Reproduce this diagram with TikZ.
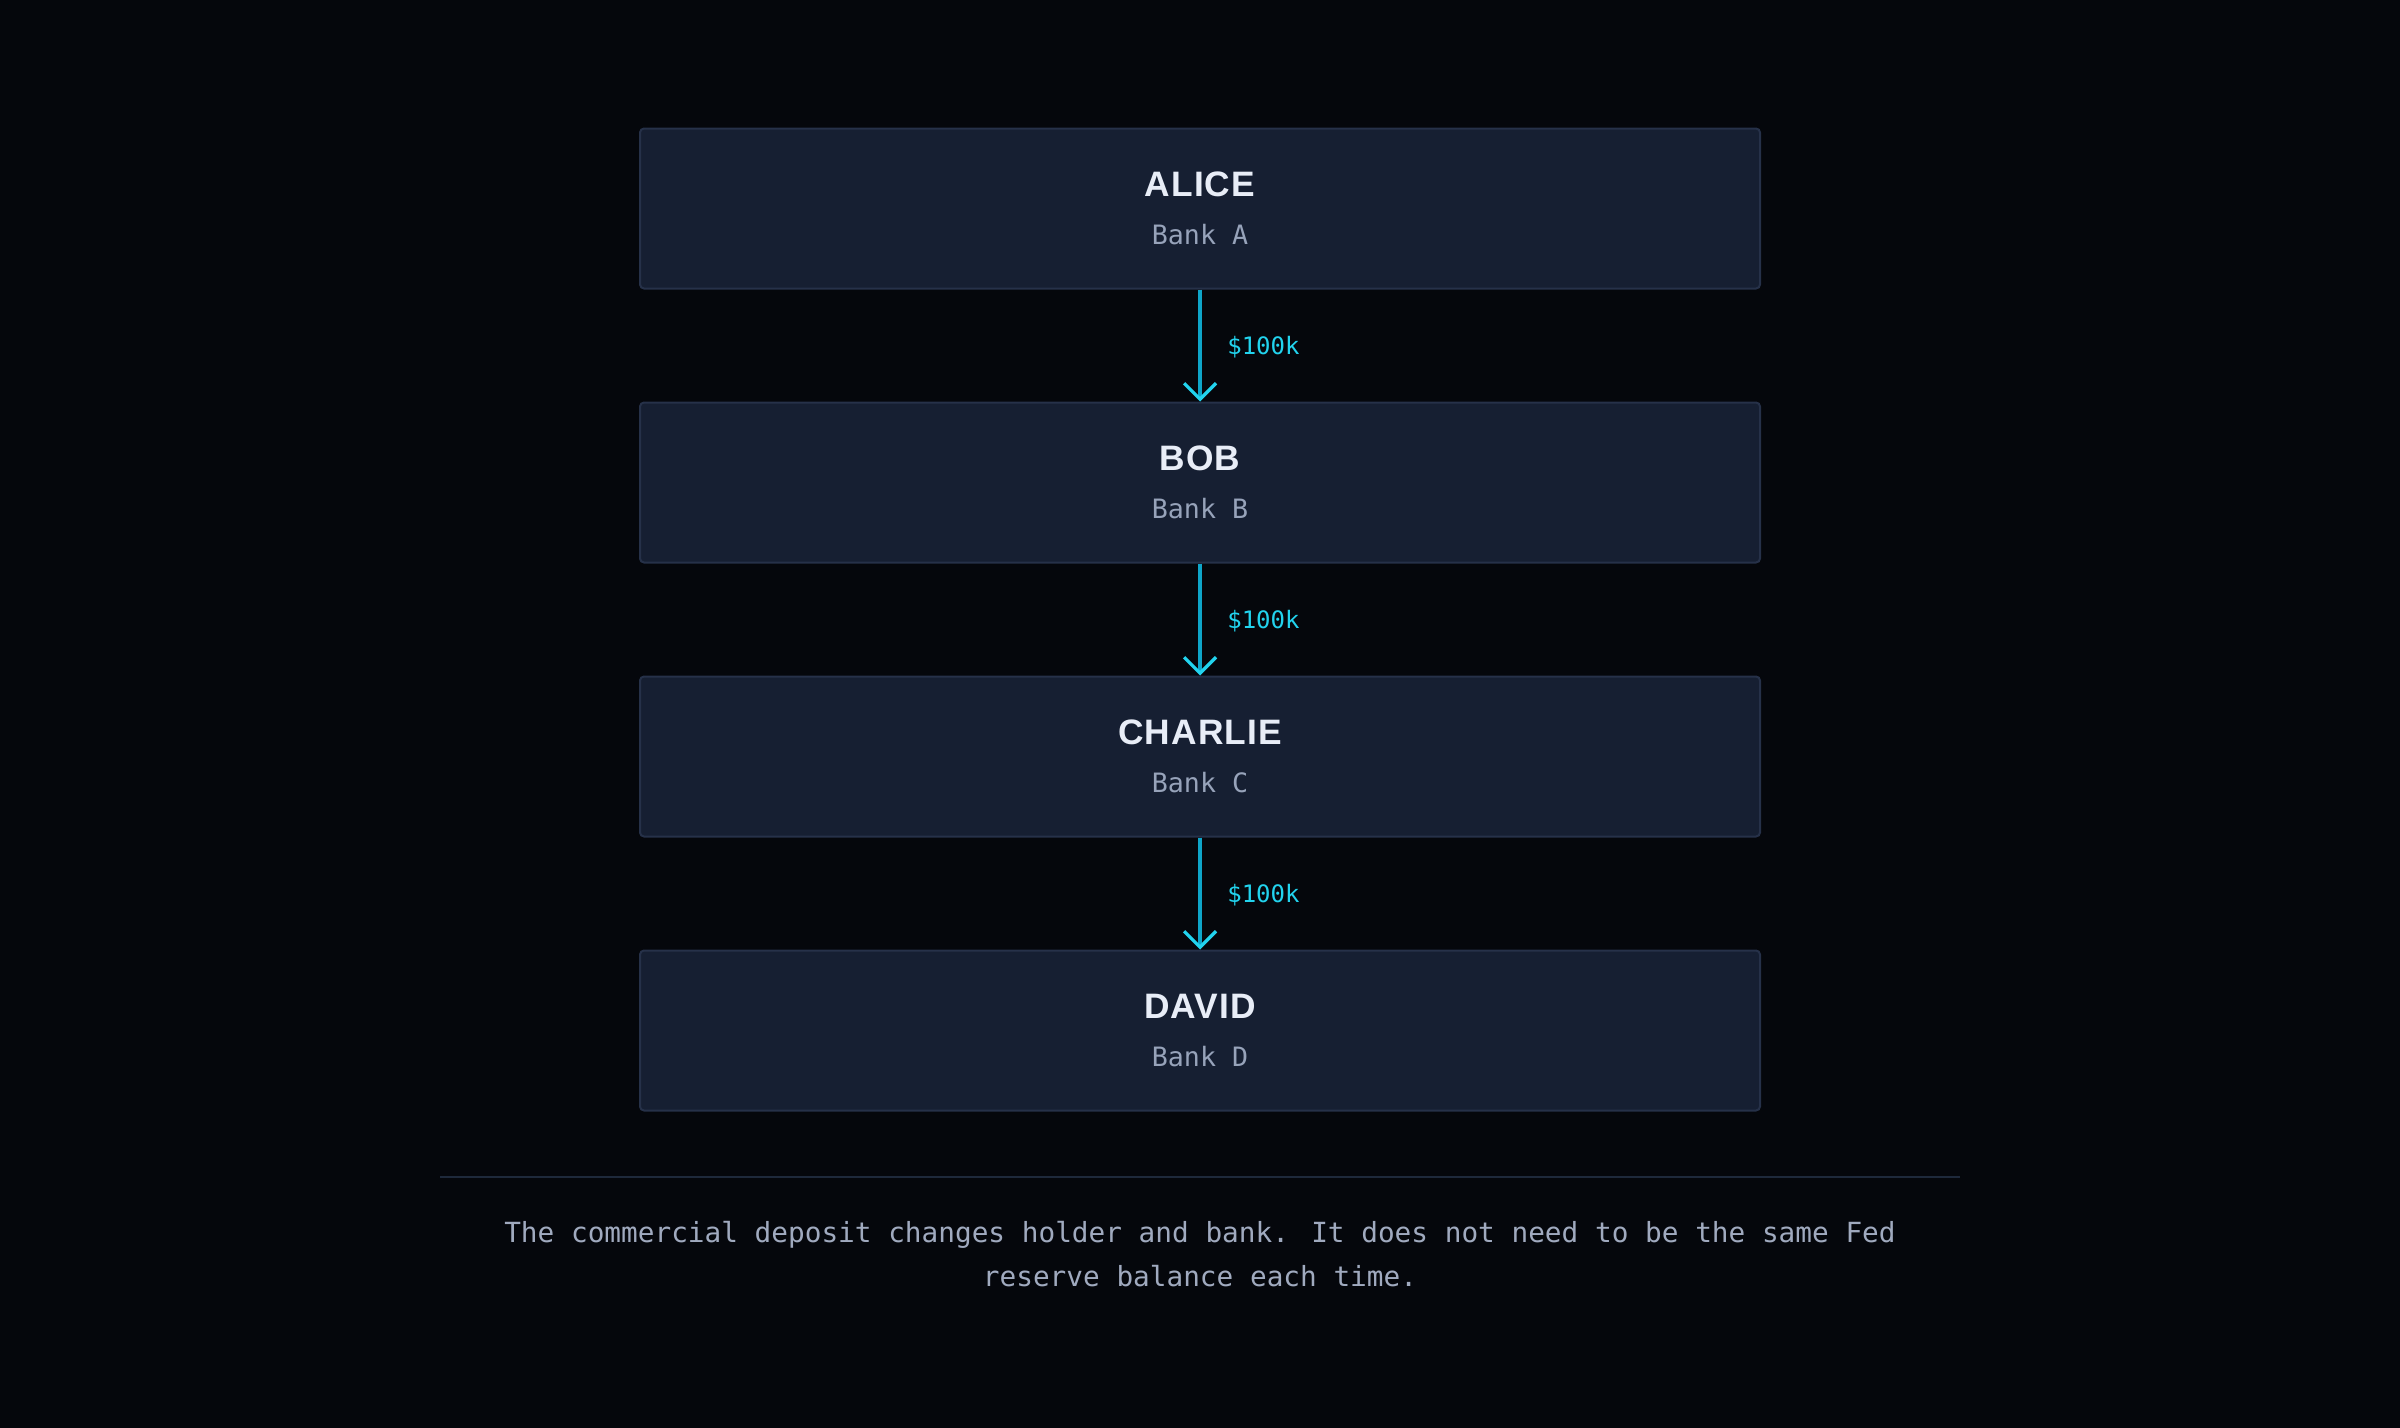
\documentclass[tikz,border=0pt]{standalone}
\usepackage{fontspec}
\setmainfont{Liberation Sans}
\newfontfamily\namefont[LetterSpace=3]{Liberation Sans}
\newfontfamily\codefont{DejaVu Sans Mono}
\usetikzlibrary{arrows.meta}
\definecolor{pagebg}{HTML}{05070C}
\definecolor{boxfill}{HTML}{161F32}
\definecolor{boxline}{HTML}{263149}
\definecolor{nametext}{HTML}{E8EDF7}
\definecolor{banktext}{HTML}{97A3BA}
\definecolor{flowline}{HTML}{0EA5C9}
\definecolor{flowtip}{HTML}{22D3EE}
\definecolor{rulecol}{HTML}{1E293B}
\definecolor{notetext}{HTML}{A0AABF}
\begin{document}
\begin{tikzpicture}[x=0.75pt, y=-0.75pt,
  holder/.style={draw=boxline, fill=boxfill, line width=1.5pt, rounded corners=3pt, minimum width=840pt, minimum height=120pt, inner sep=0pt},
  holdername/.style={text=nametext, font=\namefont\bfseries\fontsize{26.5}{32}\selectfont},
  bankname/.style={text=banktext, font=\codefont\fontsize{20}{24}\selectfont},
  amount/.style={text=flowtip, font=\codefont\fontsize{18}{22}\selectfont, anchor=west},
  flow/.style={draw=flowline, line width=2.3pt, -{Straight Barb[length=12pt, width=24pt, color=flowtip, line width=2.4pt]}}]
\fill[pagebg] (0,0) rectangle (2400,1428);

\node[holder] (alice) at (1200,208.5) {};
\node[holder] (bob) at (1200,482.5) {};
\node[holder] (charlie) at (1200,756.5) {};
\node[holder] (david) at (1200,1030.5) {};

\node[holdername] (alicename) at (1200,184) {ALICE};
\node[bankname] (alicebank) at (1200,235) {Bank A};
\node[holdername] (bobname) at (1200,458) {BOB};
\node[bankname] (bobbank) at (1200,509) {Bank B};
\node[holdername] (charliename) at (1200,732) {CHARLIE};
\node[bankname] (charliebank) at (1200,783) {Bank C};
\node[holdername] (davidname) at (1200,1006) {DAVID};
\node[bankname] (davidbank) at (1200,1057) {Bank D};

\draw[flow] (alice) -- (bob) node[amount, midway, xshift=16pt, yshift=-1pt] (ab) {\$100k};
\draw[flow] (bob) -- (charlie) node[amount, midway, xshift=16pt, yshift=-1pt] (bc) {\$100k};
\draw[flow] (charlie) -- (david) node[amount, midway, xshift=16pt, yshift=-1pt] (cd) {\$100k};

\coordinate (ruleleft) at (440,1177);
\coordinate (ruleright) at (1960,1177);
\draw[rulecol, line width=1.5pt] (ruleleft) -- (ruleright);

\node[text=notetext, align=center, font=\codefont\fontsize{20.8}{33}\selectfont] (note) at (1200,1254)
  {The commercial deposit changes holder and bank. It does not need to be the same Fed\\reserve balance each time.};
\end{tikzpicture}
\end{document}
